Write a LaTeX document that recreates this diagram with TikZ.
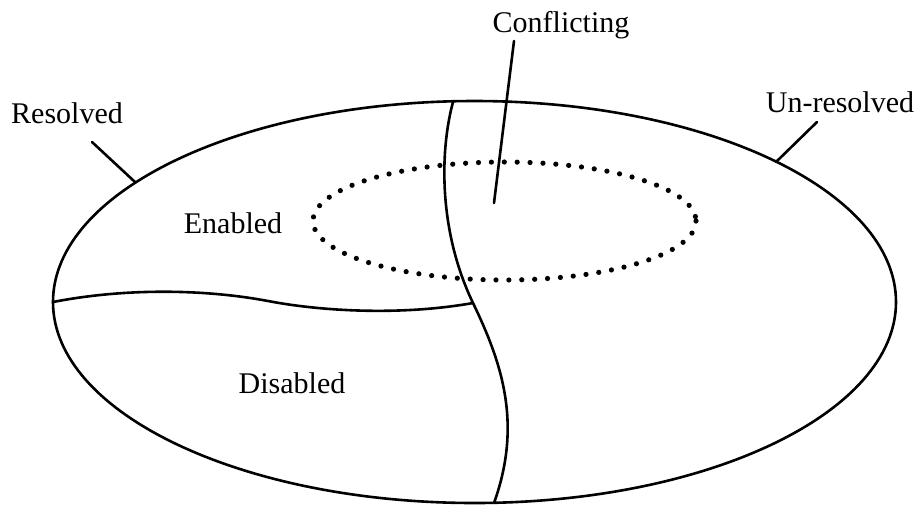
\documentclass[tikz,border=0pt]{standalone}
\usepackage{fontspec}
\setmainfont{Liberation Serif}
\begin{document}
\begin{tikzpicture}[x=0.5pt,y=-0.5pt,
  outline/.style={line width=1.3pt, line cap=round},
  txt/.style={font=\fontsize{15}{18}\selectfont, anchor=base, inner sep=0pt},
  dots/.style={line width=2.6pt, line cap=round, dash pattern=on 0pt off 6.45pt}]
\useasboundingbox (0,0) rectangle (916,505);

% outer region
\draw[outline] (474.5,302) ellipse [x radius=421.5, y radius=201];

% conflicting region
\draw[dots] (504.5,221) ellipse [x radius=191.5, y radius=59];

% resolved / un-resolved boundary
\coordinate (vtop) at (453,102);
\coordinate (vmid) at (473,303);
\coordinate (vbot) at (494,503);
\draw[outline] (vtop) .. controls (440,150) and (438,230) .. (vmid)
                      .. controls (503,365) and (522,425) .. (vbot);

% enabled / disabled boundary
\coordinate (hleft) at (53,302);
\draw[outline] (hleft) .. controls (130,287) and (210,290) .. (268,301)
                       .. controls (320,311) and (400,316) .. (vmid);

% labels
\node[txt] (resolved) at (67,123) {Resolved};
\node[txt] (unresolved) at (840,112) {Un-resolved};
\node[txt] (conflicting) at (561,32) {Conflicting};
\node[txt] (enabled) at (233,233) {Enabled};
\node[txt] (disabled) at (292,393) {Disabled};

% leader lines
\coordinate (resA) at (92,142);   \coordinate (resB) at (135,182);
\coordinate (unA) at (817,122);   \coordinate (unB) at (776,162);
\coordinate (conA) at (514,41);   \coordinate (conB) at (494,203);
\draw[outline] (resA) -- (resB);
\draw[outline] (unA) -- (unB);
\draw[outline] (conA) -- (conB);
\end{tikzpicture}
\end{document}
